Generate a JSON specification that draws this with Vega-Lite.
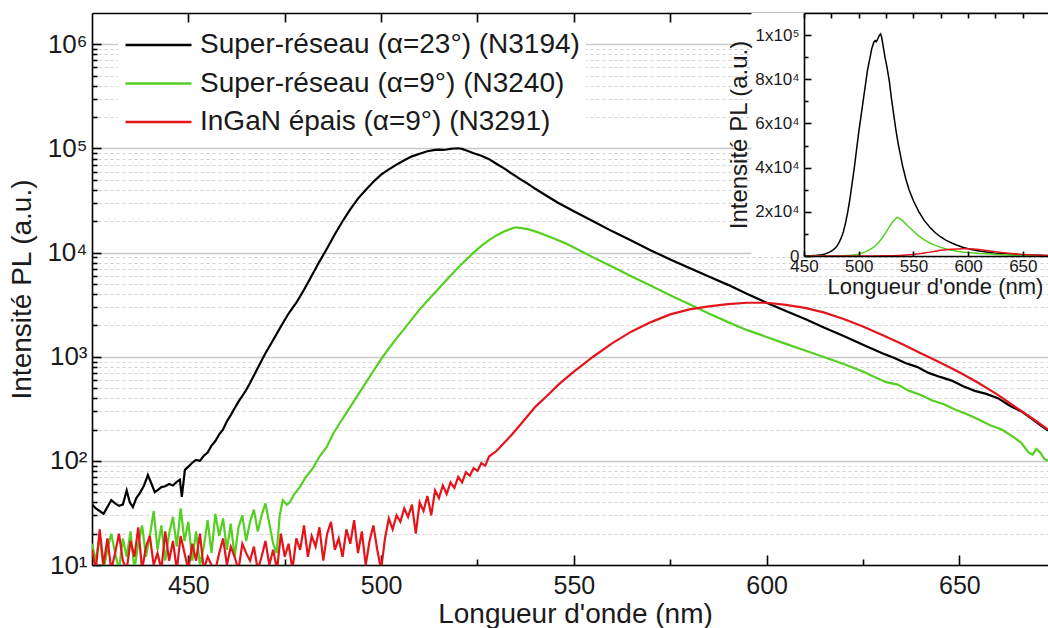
{
"$schema": "https://vega.github.io/schema/vega-lite/v6.json",
"width": 956, "height": 552,
"autosize": "none",
"padding": {"left": 92, "top": 13, "right": 0, "bottom": 63},
"background": "white",
"config": {"view": {"stroke": null}, "font": "Liberation Sans",
 "axis": {"labelFont": "Liberation Sans", "titleFont": "Liberation Sans", "labelColor": "#1a1a1a", "titleColor": "#1a1a1a", "domainColor": "black", "tickColor": "black", "domainWidth": 1.6, "tickWidth": 1.6, "titleFontWeight": "normal", "labelFlush": false}},
"data": {"values": [
{"nm":425,"s":"a","v":38},{"nm":426,"s":"a","v":35},{"nm":427,"s":"a","v":33},{"nm":428,"s":"a","v":31},{"nm":429,"s":"a","v":36},{"nm":430,"s":"a","v":42},{"nm":431,"s":"a","v":39},{"nm":432,"s":"a","v":37},{"nm":433,"s":"a","v":38},{"nm":434,"s":"a","v":52},{"nm":434.8,"s":"a","v":40},{"nm":435.6,"s":"a","v":36},{"nm":436.5,"s":"a","v":44},{"nm":437.4,"s":"a","v":49},{"nm":438.5,"s":"a","v":58},{"nm":439.5,"s":"a","v":73},{"nm":440.3,"s":"a","v":62},{"nm":441.3,"s":"a","v":50},{"nm":442.2,"s":"a","v":53},{"nm":443,"s":"a","v":56},{"nm":444,"s":"a","v":57},{"nm":445,"s":"a","v":60},{"nm":446,"s":"a","v":58},{"nm":447,"s":"a","v":63},{"nm":447.8,"s":"a","v":66},{"nm":448.3,"s":"a","v":45},{"nm":449.1,"s":"a","v":82},{"nm":450,"s":"a","v":88},{"nm":451,"s":"a","v":96},{"nm":452,"s":"a","v":102},{"nm":453,"s":"a","v":100},{"nm":454,"s":"a","v":112},{"nm":455,"s":"a","v":120},{"nm":456,"s":"a","v":140},{"nm":457,"s":"a","v":155},{"nm":458,"s":"a","v":180},{"nm":459,"s":"a","v":200},{"nm":460,"s":"a","v":240},{"nm":461,"s":"a","v":275},{"nm":462,"s":"a","v":320},{"nm":463,"s":"a","v":370},{"nm":464,"s":"a","v":420},{"nm":465,"s":"a","v":480},{"nm":466,"s":"a","v":560},{"nm":467,"s":"a","v":660},{"nm":468,"s":"a","v":780},{"nm":469,"s":"a","v":920},{"nm":470,"s":"a","v":1080},{"nm":472,"s":"a","v":1450},{"nm":474,"s":"a","v":1950},{"nm":476,"s":"a","v":2600},{"nm":478,"s":"a","v":3300},{"nm":480,"s":"a","v":4400},{"nm":482,"s":"a","v":6000},{"nm":484,"s":"a","v":8200},{"nm":486,"s":"a","v":11000},{"nm":488,"s":"a","v":15000},{"nm":490,"s":"a","v":20000},{"nm":492,"s":"a","v":26000},{"nm":494,"s":"a","v":33000},{"nm":496,"s":"a","v":40000},{"nm":498,"s":"a","v":48000},{"nm":500,"s":"a","v":56000},{"nm":502,"s":"a","v":63000},{"nm":504,"s":"a","v":70000},{"nm":506,"s":"a","v":77000},{"nm":508,"s":"a","v":84000},{"nm":510,"s":"a","v":89000},{"nm":512,"s":"a","v":94000},{"nm":514,"s":"a","v":97000},{"nm":515,"s":"a","v":97500},{"nm":516,"s":"a","v":97000},{"nm":517,"s":"a","v":97800},{"nm":518,"s":"a","v":99000},{"nm":519,"s":"a","v":100000},{"nm":520,"s":"a","v":100500},{"nm":521,"s":"a","v":99000},{"nm":522,"s":"a","v":96000},{"nm":524,"s":"a","v":90000},{"nm":526,"s":"a","v":85000},{"nm":528,"s":"a","v":79000},{"nm":530,"s":"a","v":71000},{"nm":532,"s":"a","v":64000},{"nm":534,"s":"a","v":57000},{"nm":536,"s":"a","v":51000},{"nm":538,"s":"a","v":46000},{"nm":540,"s":"a","v":41000},{"nm":543,"s":"a","v":35000},{"nm":546,"s":"a","v":30000},{"nm":550,"s":"a","v":25000},{"nm":555,"s":"a","v":20000},{"nm":560,"s":"a","v":16000},{"nm":565,"s":"a","v":13000},{"nm":570,"s":"a","v":10500},{"nm":575,"s":"a","v":8600},{"nm":580,"s":"a","v":7100},{"nm":585,"s":"a","v":5900},{"nm":590,"s":"a","v":4900},{"nm":595,"s":"a","v":4000},{"nm":600,"s":"a","v":3300},{"nm":605,"s":"a","v":2750},{"nm":610,"s":"a","v":2300},{"nm":615,"s":"a","v":1900},{"nm":620,"s":"a","v":1580},{"nm":625,"s":"a","v":1300},{"nm":630,"s":"a","v":1080},{"nm":633,"s":"a","v":980},{"nm":636,"s":"a","v":870},{"nm":639,"s":"a","v":800},{"nm":642,"s":"a","v":700},{"nm":645,"s":"a","v":640},{"nm":648,"s":"a","v":590},{"nm":651,"s":"a","v":520},{"nm":654,"s":"a","v":470},{"nm":657,"s":"a","v":440},{"nm":660,"s":"a","v":400},{"nm":663,"s":"a","v":340},{"nm":666,"s":"a","v":300},{"nm":669,"s":"a","v":250},{"nm":671,"s":"a","v":220},{"nm":673,"s":"a","v":195},
{"nm":425,"s":"b","v":16},{"nm":426,"s":"b","v":11},{"nm":427,"s":"b","v":19},{"nm":428,"s":"b","v":9},{"nm":429,"s":"b","v":14},{"nm":430,"s":"b","v":20},{"nm":431,"s":"b","v":13},{"nm":432,"s":"b","v":9},{"nm":433,"s":"b","v":18},{"nm":434,"s":"b","v":12},{"nm":435,"s":"b","v":21},{"nm":436,"s":"b","v":9},{"nm":437,"s":"b","v":16},{"nm":438,"s":"b","v":24},{"nm":439,"s":"b","v":12},{"nm":440,"s":"b","v":19},{"nm":441,"s":"b","v":33},{"nm":442,"s":"b","v":14},{"nm":443,"s":"b","v":24},{"nm":444,"s":"b","v":11},{"nm":445,"s":"b","v":20},{"nm":446,"s":"b","v":29},{"nm":447,"s":"b","v":15},{"nm":448,"s":"b","v":35},{"nm":449,"s":"b","v":17},{"nm":450,"s":"b","v":26},{"nm":451,"s":"b","v":11},{"nm":452,"s":"b","v":21},{"nm":453,"s":"b","v":10},{"nm":454,"s":"b","v":15},{"nm":455,"s":"b","v":27},{"nm":456,"s":"b","v":13},{"nm":457,"s":"b","v":31},{"nm":458,"s":"b","v":19},{"nm":459,"s":"b","v":28},{"nm":460,"s":"b","v":14},{"nm":461,"s":"b","v":25},{"nm":462,"s":"b","v":12},{"nm":463,"s":"b","v":23},{"nm":464,"s":"b","v":30},{"nm":465,"s":"b","v":17},{"nm":466,"s":"b","v":26},{"nm":467,"s":"b","v":34},{"nm":468,"s":"b","v":21},{"nm":469,"s":"b","v":30},{"nm":470,"s":"b","v":39},{"nm":471,"s":"b","v":25},{"nm":472,"s":"b","v":16},{"nm":472.9,"s":"b","v":13},{"nm":473.7,"s":"b","v":30},{"nm":474.5,"s":"b","v":42},{"nm":475.5,"s":"b","v":38},{"nm":476.3,"s":"b","v":40},{"nm":477.5,"s":"b","v":48},{"nm":478.9,"s":"b","v":56},{"nm":480.5,"s":"b","v":70},{"nm":482.3,"s":"b","v":85},{"nm":484,"s":"b","v":110},{"nm":485.9,"s":"b","v":136},{"nm":487.5,"s":"b","v":180},{"nm":489.3,"s":"b","v":231},{"nm":490.5,"s":"b","v":270},{"nm":492,"s":"b","v":330},{"nm":494,"s":"b","v":430},{"nm":496,"s":"b","v":560},{"nm":498,"s":"b","v":730},{"nm":500,"s":"b","v":950},{"nm":502,"s":"b","v":1200},{"nm":504,"s":"b","v":1500},{"nm":506,"s":"b","v":1850},{"nm":508,"s":"b","v":2300},{"nm":510,"s":"b","v":2850},{"nm":512,"s":"b","v":3450},{"nm":514,"s":"b","v":4150},{"nm":516,"s":"b","v":5000},{"nm":518,"s":"b","v":6000},{"nm":520,"s":"b","v":7200},{"nm":522,"s":"b","v":8500},{"nm":524,"s":"b","v":10000},{"nm":526,"s":"b","v":11600},{"nm":528,"s":"b","v":13200},{"nm":530,"s":"b","v":14700},{"nm":532,"s":"b","v":16000},{"nm":534,"s":"b","v":17100},{"nm":535,"s":"b","v":17500},{"nm":536,"s":"b","v":17300},{"nm":538,"s":"b","v":16800},{"nm":540,"s":"b","v":16000},{"nm":542,"s":"b","v":15000},{"nm":545,"s":"b","v":13600},{"nm":548,"s":"b","v":12200},{"nm":550,"s":"b","v":11200},{"nm":555,"s":"b","v":9000},{"nm":560,"s":"b","v":7300},{"nm":565,"s":"b","v":5900},{"nm":570,"s":"b","v":4800},{"nm":575,"s":"b","v":3900},{"nm":580,"s":"b","v":3200},{"nm":585,"s":"b","v":2600},{"nm":590,"s":"b","v":2150},{"nm":595,"s":"b","v":1800},{"nm":600,"s":"b","v":1550},{"nm":605,"s":"b","v":1330},{"nm":610,"s":"b","v":1150},{"nm":615,"s":"b","v":990},{"nm":620,"s":"b","v":850},{"nm":625,"s":"b","v":720},{"nm":628,"s":"b","v":640},{"nm":631,"s":"b","v":570},{"nm":634,"s":"b","v":540},{"nm":637,"s":"b","v":470},{"nm":640,"s":"b","v":430},{"nm":643,"s":"b","v":380},{"nm":646,"s":"b","v":350},{"nm":649,"s":"b","v":310},{"nm":652,"s":"b","v":280},{"nm":655,"s":"b","v":250},{"nm":658,"s":"b","v":220},{"nm":661,"s":"b","v":200},{"nm":664,"s":"b","v":170},{"nm":666,"s":"b","v":150},{"nm":668,"s":"b","v":120},{"nm":669,"s":"b","v":115},{"nm":670,"s":"b","v":130},{"nm":671,"s":"b","v":120},{"nm":672,"s":"b","v":105},{"nm":673,"s":"b","v":100},
{"nm":425,"s":"c","v":14},{"nm":426,"s":"c","v":9},{"nm":427,"s":"c","v":22},{"nm":428,"s":"c","v":10},{"nm":429,"s":"c","v":18},{"nm":430,"s":"c","v":9},{"nm":431,"s":"c","v":13},{"nm":432,"s":"c","v":20},{"nm":433,"s":"c","v":11},{"nm":434,"s":"c","v":9},{"nm":435,"s":"c","v":17},{"nm":436,"s":"c","v":12},{"nm":437,"s":"c","v":23},{"nm":438,"s":"c","v":9},{"nm":439,"s":"c","v":15},{"nm":440,"s":"c","v":19},{"nm":441,"s":"c","v":10},{"nm":442,"s":"c","v":13},{"nm":443,"s":"c","v":9},{"nm":444,"s":"c","v":21},{"nm":445,"s":"c","v":11},{"nm":446,"s":"c","v":17},{"nm":447,"s":"c","v":9},{"nm":448,"s":"c","v":19},{"nm":449,"s":"c","v":13},{"nm":450,"s":"c","v":9},{"nm":451,"s":"c","v":16},{"nm":452,"s":"c","v":11},{"nm":453,"s":"c","v":20},{"nm":454,"s":"c","v":9},{"nm":455,"s":"c","v":12},{"nm":456,"s":"c","v":10},{"nm":457,"s":"c","v":9},{"nm":458,"s":"c","v":13},{"nm":459,"s":"c","v":18},{"nm":460,"s":"c","v":10},{"nm":461,"s":"c","v":15},{"nm":462,"s":"c","v":12},{"nm":463,"s":"c","v":9},{"nm":464,"s":"c","v":16},{"nm":465,"s":"c","v":13},{"nm":466,"s":"c","v":11},{"nm":467,"s":"c","v":15},{"nm":468,"s":"c","v":9},{"nm":469,"s":"c","v":12},{"nm":470,"s":"c","v":17},{"nm":471,"s":"c","v":10},{"nm":472,"s":"c","v":14},{"nm":473,"s":"c","v":9},{"nm":474,"s":"c","v":20},{"nm":475,"s":"c","v":12},{"nm":476,"s":"c","v":16},{"nm":477,"s":"c","v":9},{"nm":478,"s":"c","v":18},{"nm":479,"s":"c","v":14},{"nm":480,"s":"c","v":24},{"nm":481,"s":"c","v":12},{"nm":482,"s":"c","v":19},{"nm":483,"s":"c","v":15},{"nm":484,"s":"c","v":23},{"nm":485,"s":"c","v":11},{"nm":486,"s":"c","v":20},{"nm":487,"s":"c","v":26},{"nm":488,"s":"c","v":14},{"nm":489,"s":"c","v":18},{"nm":490,"s":"c","v":12},{"nm":491,"s":"c","v":22},{"nm":492,"s":"c","v":16},{"nm":493,"s":"c","v":27},{"nm":494,"s":"c","v":13},{"nm":495,"s":"c","v":21},{"nm":496,"s":"c","v":10},{"nm":497,"s":"c","v":17},{"nm":498,"s":"c","v":24},{"nm":499,"s":"c","v":14},{"nm":500,"s":"c","v":9},{"nm":501,"s":"c","v":18},{"nm":502,"s":"c","v":28},{"nm":503,"s":"c","v":22},{"nm":504,"s":"c","v":30},{"nm":505,"s":"c","v":26},{"nm":506,"s":"c","v":35},{"nm":507,"s":"c","v":29},{"nm":508,"s":"c","v":38},{"nm":509,"s":"c","v":20},{"nm":510,"s":"c","v":40},{"nm":511,"s":"c","v":33},{"nm":512,"s":"c","v":46},{"nm":513,"s":"c","v":30},{"nm":514,"s":"c","v":52},{"nm":515,"s":"c","v":44},{"nm":516,"s":"c","v":58},{"nm":517,"s":"c","v":48},{"nm":518,"s":"c","v":62},{"nm":519,"s":"c","v":55},{"nm":520,"s":"c","v":70},{"nm":521,"s":"c","v":62},{"nm":522,"s":"c","v":78},{"nm":523,"s":"c","v":72},{"nm":524,"s":"c","v":85},{"nm":525,"s":"c","v":80},{"nm":526,"s":"c","v":95},{"nm":527,"s":"c","v":90},{"nm":528,"s":"c","v":110},{"nm":530,"s":"c","v":125},{"nm":532,"s":"c","v":150},{"nm":534,"s":"c","v":180},{"nm":536,"s":"c","v":220},{"nm":538,"s":"c","v":270},{"nm":540,"s":"c","v":330},{"nm":543,"s":"c","v":420},{"nm":546,"s":"c","v":540},{"nm":550,"s":"c","v":720},{"nm":555,"s":"c","v":1000},{"nm":560,"s":"c","v":1350},{"nm":565,"s":"c","v":1750},{"nm":570,"s":"c","v":2150},{"nm":575,"s":"c","v":2550},{"nm":580,"s":"c","v":2850},{"nm":585,"s":"c","v":3050},{"nm":590,"s":"c","v":3200},{"nm":595,"s":"c","v":3300},{"nm":600,"s":"c","v":3300},{"nm":605,"s":"c","v":3150},{"nm":610,"s":"c","v":2950},{"nm":615,"s":"c","v":2650},{"nm":620,"s":"c","v":2300},{"nm":625,"s":"c","v":1950},{"nm":630,"s":"c","v":1620},{"nm":635,"s":"c","v":1330},{"nm":640,"s":"c","v":1080},{"nm":645,"s":"c","v":880},{"nm":650,"s":"c","v":710},{"nm":655,"s":"c","v":560},{"nm":660,"s":"c","v":430},{"nm":665,"s":"c","v":320},{"nm":670,"s":"c","v":240},{"nm":673,"s":"c","v":200}
]},
"layer": [
 {"mark": {"type": "point", "opacity": 0},
  "encoding": {
   "x": {"field": "nm", "type": "quantitative", "scale": {"domain": [425, 673], "nice": false, "zero": false}, "axis": null},
   "y": {"field": "v", "type": "quantitative", "scale": {"type": "log", "domain": [10, 2000000], "nice": false},
    "axis": {"orient": "left", "values": [10, 100, 1000, 10000, 100000, 1000000], "grid": true, "gridColor": "#c8c8c8", "gridWidth": 1.3, "domain": false, "ticks": false, "labels": false, "title": null, "zindex": 0}}}},
 {"mark": {"type": "point", "opacity": 0},
  "encoding": {
   "x": {"field": "nm", "type": "quantitative", "scale": {"domain": [425, 673], "nice": false, "zero": false},
    "axis": {"orient": "bottom", "values": [475, 525, 575, 625], "tickSize": -6, "domain": false, "labels": false, "title": null, "grid": false, "zindex": 0}},
   "y": {"field": "v", "type": "quantitative", "scale": {"type": "log", "domain": [10, 2000000], "nice": false},
    "axis": {"orient": "left", "values": [20,30,40,50,60,70,80,90,200,300,400,500,600,700,800,900,2000,3000,4000,5000,6000,7000,8000,9000,20000,30000,40000,50000,60000,70000,80000,90000,200000,300000,400000,500000,600000,700000,800000,900000], "grid": true, "gridColor": "#d2d2d2", "gridDash": [3, 3], "gridWidth": 1, "tickSize": -5, "domain": false, "labels": false, "title": null, "zindex": 0}}}},
 {"mark": {"type": "line", "strokeWidth": 2.2, "clip": true},
  "encoding": {
   "x": {"field": "nm", "type": "quantitative", "scale": {"domain": [425, 673], "nice": false, "zero": false},
    "axis": {"orient": "bottom", "values": [450, 500, 550, 600, 650], "tickSize": -10, "labelFontSize": 25, "labelPadding": 18, "title": "Longueur d'onde (nm)", "titleFontSize": 28, "titlePadding": 2, "titleX": 483, "grid": false, "zindex": 0}},
   "y": {"field": "v", "type": "quantitative", "scale": {"type": "log", "domain": [10, 2000000], "nice": false},
    "axis": {"orient": "left", "values": [10, 100, 1000, 10000, 100000, 1000000], "labelExpr": "'10' + ['⁰','¹','²','³','⁴','⁵','⁶','⁷'][round(log(datum.value)/LN10)]", "tickSize": -9, "labelFontSize": 26, "labelPadding": 14, "title": "Intensité PL (a.u.)", "titleFontSize": 28, "titlePadding": 10, "grid": false, "zindex": 0}},
   "color": {"field": "s", "type": "nominal", "scale": {"domain": ["a", "b", "c"], "range": ["#000000", "#55cf22", "#e3151b"]},
    "legend": {"orient": "none", "legendX": 26, "legendY": 11, "title": null, "symbolType": "stroke", "symbolSize": 4356, "symbolStrokeWidth": 2.5, "clipHeight": 30, "labelFontSize": 28, "labelFont": "Liberation Sans", "labelColor": "#1a1a1a", "labelOffset": 7, "labelLimit": 600, "rowPadding": 8.5, "fillColor": "white", "padding": 6,
     "labelExpr": "datum.label == 'a' ? 'Super-réseau (α=23°) (N3194)' : datum.label == 'b' ? 'Super-réseau (α=9°) (N3240)' : 'InGaN épais (α=9°) (N3291)'"}}}},
 {"mark": {"type": "point", "opacity": 0},
  "encoding": {
   "x": {"field": "nm", "type": "quantitative", "scale": {"domain": [425, 673], "nice": false, "zero": false},
    "axis": {"orient": "top", "values": [450, 475, 500, 525, 550, 575, 600, 625, 650], "tickSize": -9, "labels": false, "title": null, "grid": false, "zindex": 0}},
   "y": {"field": "v", "type": "quantitative", "scale": {"type": "log", "domain": [10, 2000000], "nice": false}, "axis": null}}},
 {"layer": [
   {"data": {"values": [{}]},
    "mark": {"type": "rect", "fill": "white"},
    "encoding": {
     "x": {"datum": 402, "type": "quantitative"}, "x2": {"datum": 673},
     "y": {"datum": 0, "type": "quantitative"}, "y2": {"datum": 110000}}},
   {"transform": [{"filter": "datum.nm >= 450"}],
    "mark": {"type": "line", "strokeWidth": 1.5},
    "encoding": {
     "x": {"field": "nm", "type": "quantitative", "title": "Longueur d'onde (nm)", "scale": {"domain": [450, 673], "range": [712, 956], "nice": false, "zero": false},
      "axis": {"orient": "bottom", "offset": -309, "values": [450, 500, 550, 600, 650], "tickSize": -5, "labelFontSize": 17, "labelPadding": 7, "titleFontSize": 22, "titlePadding": 2, "titleX": 843, "grid": false, "zindex": 1}},
     "y": {"field": "v", "type": "quantitative", "title": "Intensité PL (a.u.)", "scale": {"domain": [0, 110000], "range": [243, 0], "nice": false, "zero": false},
      "axis": {"orient": "left", "offset": -712, "values": [0, 20000, 40000, 60000, 80000, 100000], "labelExpr": "datum.value == 0 ? '0' : datum.value == 100000 ? '1x10⁵' : (datum.value/10000) + 'x10⁴'", "tickSize": -7, "labelFontSize": 17, "labelPadding": 12, "titleFontSize": 24, "titlePadding": 3, "grid": false, "zindex": 1}},
     "color": {"field": "s", "type": "nominal", "scale": {"domain": ["a", "b", "c"], "range": ["#000000", "#55cf22", "#e3151b"]},
      "legend": {"orient": "none", "legendX": 26, "legendY": 11, "title": null, "symbolType": "stroke", "symbolSize": 4356, "symbolStrokeWidth": 2.5, "clipHeight": 30, "labelFontSize": 28, "labelFont": "Liberation Sans", "labelColor": "#1a1a1a", "labelOffset": 7, "labelLimit": 600, "rowPadding": 8.5, "fillColor": "white", "padding": 6,
       "labelExpr": "datum.label == 'a' ? 'Super-réseau (α=23°) (N3194)' : datum.label == 'b' ? 'Super-réseau (α=9°) (N3240)' : 'InGaN épais (α=9°) (N3291)'"}}}}
  ]},
 {"mark": {"type": "point", "opacity": 0},
  "encoding": {
   "x": {"field": "nm", "type": "quantitative", "scale": {"domain": [450, 673], "range": [712, 956], "nice": false, "zero": false},
    "axis": {"orient": "top", "offset": 0, "values": [450, 475, 500, 525, 550, 575, 600, 625, 650], "tickSize": -5, "labels": false, "title": null, "grid": false, "zindex": 1}},
   "y": {"field": "v", "type": "quantitative", "scale": {"domain": [0, 110000], "range": [243, 0], "nice": false, "zero": false},
    "axis": {"orient": "left", "offset": -712, "values": [10000, 30000, 50000, 70000, 90000], "tickSize": -4, "domain": false, "labels": false, "title": null, "grid": false, "zindex": 1}}}}
],
"resolve": {"scale": {"x": "independent", "y": "independent"}, "axis": {"x": "independent", "y": "independent"}}
}
